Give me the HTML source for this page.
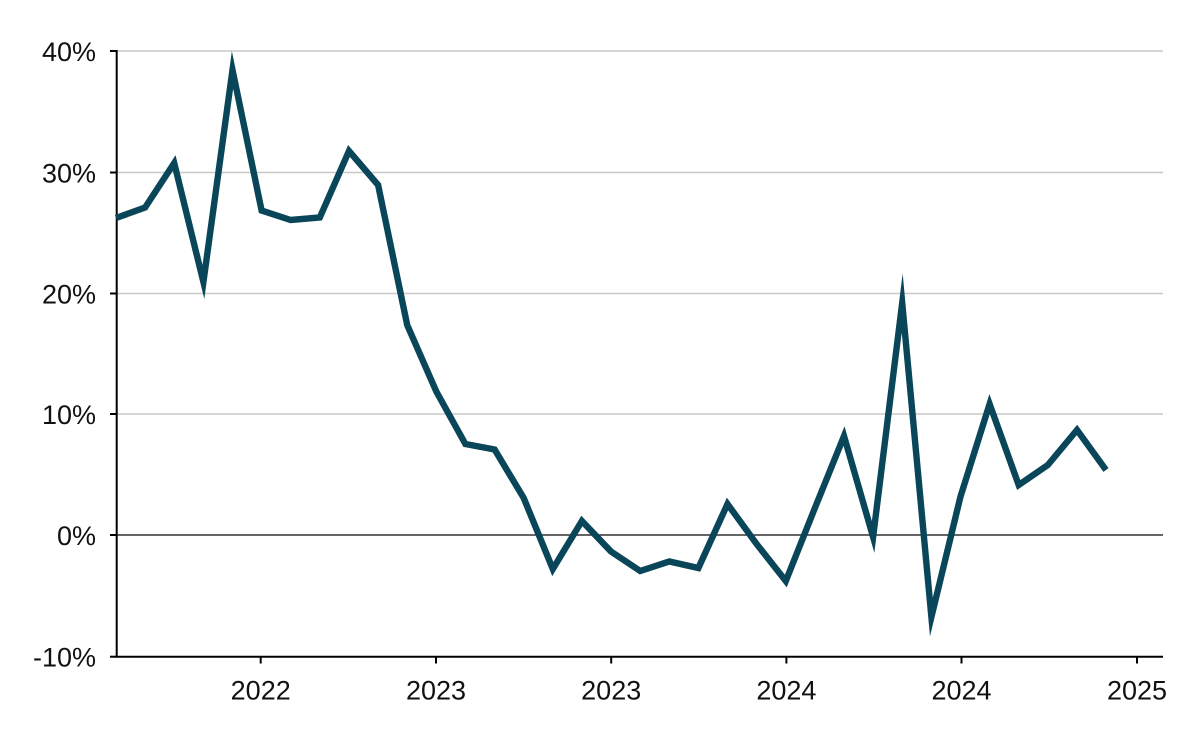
<!DOCTYPE html>
<html><head><meta charset="utf-8"><style>
html,body{margin:0;padding:0;background:#fff;}
svg{display:block;}
text{font-family:"Liberation Sans",Arial,sans-serif;font-size:27px;fill:#111;}
</style></head><body>
<svg width="1200" height="742" viewBox="0 0 1200 742" xmlns="http://www.w3.org/2000/svg">
<g stroke="#c8c8c8" stroke-width="1.6">
<line x1="116" y1="51" x2="1163" y2="51"/>
<line x1="116" y1="172.5" x2="1163" y2="172.5"/>
<line x1="116" y1="293.5" x2="1163" y2="293.5"/>
<line x1="116" y1="414" x2="1163" y2="414"/>
</g>
<line x1="116" y1="535" x2="1163" y2="535" stroke="#333" stroke-width="1.6"/>
<g stroke="#000" stroke-width="2">
<line x1="116.7" y1="50" x2="116.7" y2="657.5"/>
<line x1="115.7" y1="656.7" x2="1163" y2="656.7"/>
<line x1="110" y1="51" x2="117" y2="51"/>
<line x1="110" y1="172.5" x2="117" y2="172.5"/>
<line x1="110" y1="293.5" x2="117" y2="293.5"/>
<line x1="110" y1="414" x2="117" y2="414"/>
<line x1="110" y1="535" x2="117" y2="535"/>
<line x1="110" y1="656.7" x2="117" y2="656.7"/>
<line x1="260.7" y1="656" x2="260.7" y2="663.5"/>
<line x1="436" y1="656" x2="436" y2="663.5"/>
<line x1="611.2" y1="656" x2="611.2" y2="663.5"/>
<line x1="786.4" y1="656" x2="786.4" y2="663.5"/>
<line x1="961.5" y1="656" x2="961.5" y2="663.5"/>
<line x1="1137" y1="656" x2="1137" y2="663.5"/>
</g>
<g text-anchor="end">
<text x="96" y="60.8">40%</text>
<text x="96" y="182.3">30%</text>
<text x="96" y="303.3">20%</text>
<text x="96" y="423.8">10%</text>
<text x="96" y="544.8">0%</text>
<text x="96" y="666.5">-10%</text>
</g>
<g text-anchor="middle">
<text x="260.7" y="699.5">2022</text>
<text x="436" y="699.5">2023</text>
<text x="611.2" y="699.5">2023</text>
<text x="786.4" y="699.5">2024</text>
<text x="961.5" y="699.5">2024</text>
<text x="1137" y="699.5">2025</text>
</g>
<polyline fill="none" stroke="#0a4659" stroke-width="6.4" stroke-linejoin="miter" stroke-miterlimit="12" points="116,218 145.1,207.5 174.2,163 203.4,282 232.5,70 261.6,210.5 290.7,220 319.8,217.5 349,151 378.1,185 407.2,325 436.3,391.5 465.4,444 494.6,449.5 523.7,498 552.8,569 581.9,521 611,551.5 640.2,571 669.3,561.5 698.4,568 727.5,504 756.6,544 785.8,581 814.9,508 844,436 873.1,537 902.2,303 931.4,617 960.5,496.5 989.6,404 1018.7,485 1047.8,465 1077,430 1106,470"/>
</svg>
</body></html>
